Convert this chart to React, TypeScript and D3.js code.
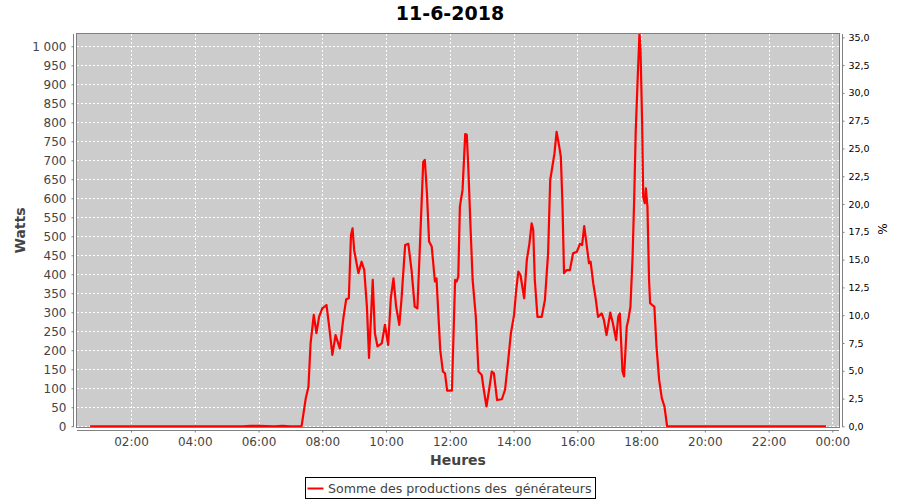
import React, { useRef, useEffect } from 'react'
import * as d3 from 'd3'

// Production readings for the day (time of reading, watts)
const times = [
  '00:43', '01:30', '02:30', '03:30', '04:30', '05:30', '05:45', '06:00', '06:30', '06:45', '07:00', '07:15',
  '07:21', '07:29', '07:34', '07:38', '07:44', '07:49', '07:54', '08:00', '08:08', '08:13', '08:19', '08:25',
  '08:33', '08:40', '08:45', '08:50', '08:54', '08:57', '09:00', '09:08', '09:14', '09:19', '09:24', '09:28',
  '09:35', '09:39', '09:44', '09:52', '09:58', '10:04', '10:09', '10:14', '10:19', '10:25', '10:29', '10:36',
  '10:42', '10:48', '10:54', '10:59', '11:04', '11:10', '11:13', '11:17', '11:21', '11:26', '11:32', '11:35',
  '11:42', '11:47', '11:51', '11:55', '12:04', '12:10', '12:13', '12:16', '12:19', '12:24', '12:29', '12:32',
  '12:35', '12:39', '12:43', '12:49', '12:54', '13:00', '13:04', '13:09', '13:14', '13:19', '13:23', '13:29',
  '13:38', '13:44', '13:50', '13:55', '14:01', '14:05', '14:09', '14:13', '14:20', '14:25', '14:30', '14:34',
  '14:37', '14:40', '14:45', '14:53', '14:59', '15:05', '15:09', '15:13', '15:17', '15:21', '15:26', '15:29',
  '15:32', '15:35', '15:40', '15:46', '15:52', '15:59', '16:05', '16:09', '16:13', '16:18', '16:22', '16:25',
  '16:30', '16:35', '16:39', '16:46', '16:50', '16:55', '17:02', '17:07', '17:13', '17:17', '17:20', '17:25',
  '17:28', '17:33', '17:36', '17:40', '17:44', '17:47', '17:50', '17:54', '17:57', '17:59', '18:02', '18:04',
  '18:07', '18:09', '18:12', '18:15', '18:17', '18:21', '18:25', '18:29', '18:34', '18:39', '18:44', '18:49',
  '19:30', '20:30', '21:30', '22:30', '23:48',
]
const watts = [
  0, 0, 0, 0, 0, 0, 1, 1, 0, 1, 0, 0,
  0, 74, 104, 218, 293, 245, 288, 310, 319, 262, 188, 240,
  205, 288, 334, 337, 503, 521, 464, 403, 433, 411, 315, 180,
  385, 245, 210, 218, 267, 214, 337, 389, 315, 267, 332, 477,
  480, 411, 315, 310, 482, 696, 701, 613, 486, 473, 381, 389,
  201, 144, 139, 94, 94, 385, 381, 394, 578, 622, 769, 767,
  675, 525, 385, 288, 144, 135, 96, 52, 96, 144, 139, 69,
  71, 96, 174, 245, 293, 359, 407, 398, 337, 438, 482, 534,
  517, 385, 288, 288, 332, 455, 648, 683, 718, 775, 736, 709,
  587, 403, 411, 411, 455, 459, 480, 477, 527, 473, 429, 433,
  376, 332, 288, 297, 280, 240, 299, 271, 227, 288, 297, 144,
  131, 262, 280, 315, 446, 596, 780, 929, 1035, 990, 797, 604,
  587, 626, 578, 385, 324, 319, 315, 210, 122, 74, 52, 0,
  0, 0, 0, 0, 0,
]
const wattTicks = d3.range(0, 1001, 50)
const percentTicks = d3.range(0, 35.01, 2.5)

const title = '11-6-2018'
const seriesName = 'Somme des productions des  générateurs'

const frLocale = d3.formatLocale({ decimal: ',', thousands: '\u00a0', grouping: [3], currency: ['', ' €'] })

const Chart: React.FC = () => {
  const svgRef = useRef<SVGSVGElement | null>(null)

  useEffect(() => {
    const svg = d3.select(svgRef.current)
    svg.selectAll('*').remove()

    const width = 900
    const height = 500
    const plot = { left: 77, right: 839, top: 34, bottom: 427 }
    const font = 'DejaVu Sans, sans-serif'

    svg.attr('width', width).attr('height', height)

    const parse = d3.timeParse('%Y-%m-%d %H:%M')
    const points = times.map((t, i) => ({ date: parse('2018-06-11 ' + t)!, value: watts[i] }))

    const x = d3
      .scaleTime()
      .domain([new Date(2018, 5, 11, 0, 18, 24), new Date(2018, 5, 12, 0, 12, 30)])
      .range([plot.left, plot.right])
    const y = d3.scaleLinear().domain([-2, 1032.4]).range([plot.bottom, plot.top])
    const yPct = d3.scaleLinear().domain([-0.06, 35.3]).range([plot.bottom, plot.top])

    // plot background
    svg
      .append('rect')
      .attr('x', plot.left)
      .attr('y', plot.top)
      .attr('width', plot.right - plot.left)
      .attr('height', plot.bottom - plot.top)
      .attr('fill', '#cccccc')

    // grid lines
    const grid = svg.append('g').attr('stroke', '#ffffff').attr('stroke-width', 1).attr('stroke-dasharray', '2,2')
    grid
      .selectAll('line.h')
      .data(wattTicks)
      .enter()
      .append('line')
      .attr('x1', plot.left)
      .attr('x2', plot.right)
      .attr('y1', (d) => Math.round(y(d)) + 0.5)
      .attr('y2', (d) => Math.round(y(d)) + 0.5)
    grid
      .selectAll('line.v')
      .data(x.ticks(d3.timeHour.every(2)!))
      .enter()
      .append('line')
      .attr('y1', plot.top)
      .attr('y2', plot.bottom)
      .attr('x1', (d) => Math.round(x(d)) + 0.5)
      .attr('x2', (d) => Math.round(x(d)) + 0.5)

    // series line
    svg
      .append('clipPath')
      .attr('id', 'plot-clip')
      .append('rect')
      .attr('x', plot.left)
      .attr('y', plot.top)
      .attr('width', plot.right - plot.left)
      .attr('height', plot.bottom - plot.top)

    const line = d3
      .line<{ date: Date; value: number }>()
      .x((d) => x(d.date))
      .y((d) => y(d.value))
    svg
      .append('path')
      .datum(points)
      .attr('clip-path', 'url(#plot-clip)')
      .attr('fill', 'none')
      .attr('stroke', '#ff0000')
      .attr('stroke-width', 2.2)
      .attr('stroke-linejoin', 'round')
      .attr('d', line)

    // plot border
    svg
      .append('rect')
      .attr('x', plot.left - 0.5)
      .attr('y', plot.top - 0.5)
      .attr('width', plot.right - plot.left + 1)
      .attr('height', plot.bottom - plot.top + 1)
      .attr('fill', 'none')
      .attr('stroke', '#808080')

    const styleAxis = (g: d3.Selection<SVGGElement, unknown, null, undefined>, color: string, size: number) => {
      g.selectAll('path').attr('stroke', '#808080')
      g.selectAll('line').attr('stroke', '#808080')
      g.selectAll('text').attr('fill', color).attr('font-family', font).attr('font-size', size)
    }

    // left axis (Watts)
    const fmtW = frLocale.format(',')
    const leftAxis = svg
      .append('g')
      .attr('transform', `translate(${plot.left - 3.5},0)`)
      .call(
        d3
          .axisLeft(y)
          .tickValues(wattTicks)
          .tickSizeInner(2)
          .tickSizeOuter(0)
          .tickPadding(5)
          .tickFormat((d) => fmtW(d as number).replace('\u00a0', ' '))
      )
    leftAxis.select('.domain').attr('d', `M0,${plot.top}V${plot.bottom}`)
    styleAxis(leftAxis, '#444444', 12)

    // right axis (%)
    const fmtP = frLocale.format('.1f')
    const rightAxis = svg
      .append('g')
      .attr('transform', `translate(${plot.right + 3.5},0)`)
      .call(
        d3
          .axisRight(yPct)
          .tickValues(percentTicks)
          .tickSizeInner(2)
          .tickSizeOuter(0)
          .tickPadding(4)
          .tickFormat((d) => fmtP(d as number))
      )
    rightAxis.select('.domain').attr('d', `M0,${plot.top}V${plot.bottom}`)
    styleAxis(rightAxis, '#000000', 9.5)

    // bottom axis (Heures)
    const bottomAxis = svg
      .append('g')
      .attr('transform', `translate(0,${plot.bottom + 3.5})`)
      .call(
        d3
          .axisBottom(x)
          .ticks(d3.timeHour.every(2)!)
          .tickSizeInner(2)
          .tickSizeOuter(0)
          .tickPadding(5)
          .tickFormat((d) => d3.timeFormat('%H:%M')(d as Date))
      )
    bottomAxis.select('.domain').attr('d', `M${plot.left},0H${plot.right}`)
    styleAxis(bottomAxis, '#444444', 12)

    // titles
    svg
      .append('text')
      .attr('x', width / 2)
      .attr('y', 19.5)
      .attr('text-anchor', 'middle')
      .attr('font-family', font)
      .attr('font-weight', 'bold')
      .attr('font-size', 19)
      .attr('fill', '#000000')
      .text(title)

    svg
      .append('text')
      .attr('x', (plot.left + plot.right) / 2)
      .attr('y', 465)
      .attr('text-anchor', 'middle')
      .attr('font-family', font)
      .attr('font-weight', 'bold')
      .attr('font-size', 14)
      .attr('fill', '#444444')
      .text('Heures')

    svg
      .append('text')
      .attr('transform', `translate(25,${(plot.top + plot.bottom) / 2}) rotate(-90)`)
      .attr('text-anchor', 'middle')
      .attr('font-family', font)
      .attr('font-weight', 'bold')
      .attr('font-size', 14)
      .attr('fill', '#444444')
      .text('Watts')

    svg
      .append('text')
      .attr('transform', `translate(886.5,229) rotate(-90)`)
      .attr('text-anchor', 'middle')
      .attr('font-family', font)
      .attr('font-size', 12)
      .attr('fill', '#000000')
      .text('%')

    // legend
    const legend = svg.append('g')
    legend
      .append('rect')
      .attr('x', 305.5)
      .attr('y', 477.5)
      .attr('width', 290)
      .attr('height', 21)
      .attr('fill', '#ffffff')
      .attr('stroke', '#000000')
    legend
      .append('line')
      .attr('x1', 307.5)
      .attr('x2', 323.5)
      .attr('y1', 488.5)
      .attr('y2', 488.5)
      .attr('stroke', '#ff0000')
      .attr('stroke-width', 2)
    legend
      .append('text')
      .attr('x', 328)
      .attr('y', 492.5)
      .attr('font-family', font)
      .attr('font-size', 12.6)
      .attr('fill', '#444444')
      .style('white-space', 'pre')
      .text(seriesName)
  }, [])

  return <svg ref={svgRef} style={{ position: 'absolute', left: 0, top: 0 }}></svg>
}

export default function App() {
  return <Chart />
}
